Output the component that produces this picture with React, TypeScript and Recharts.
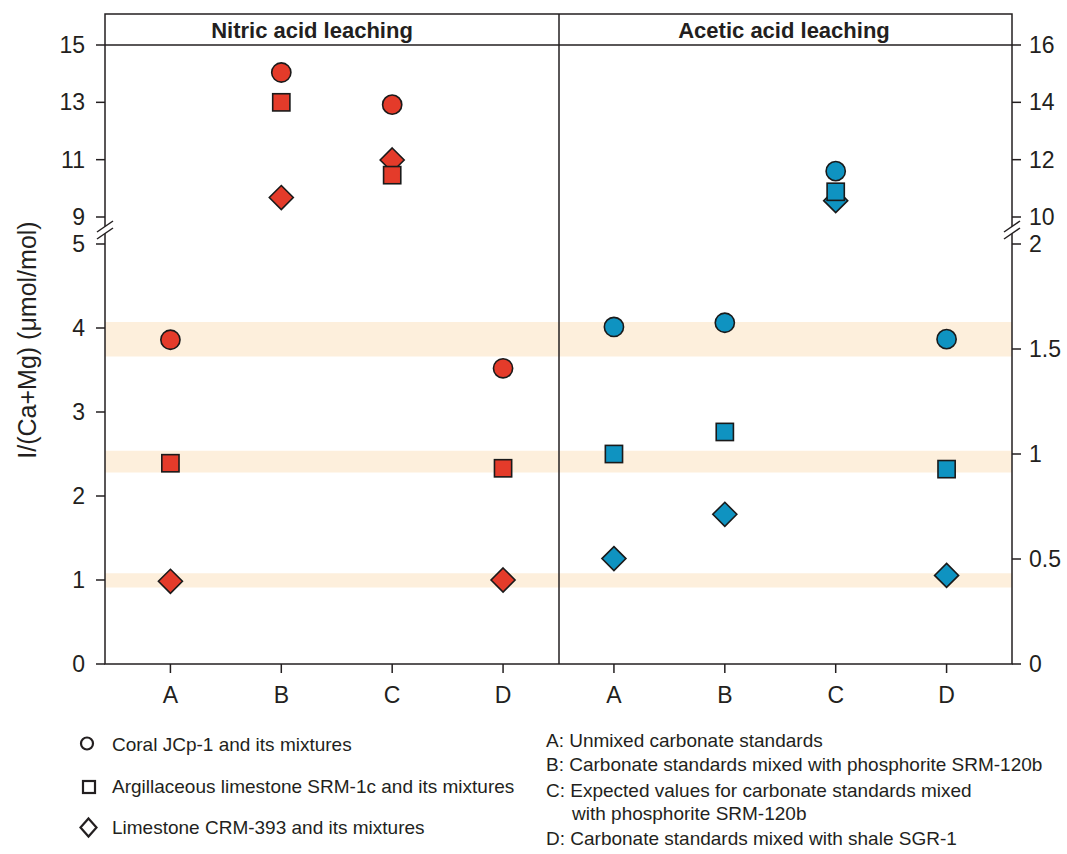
import React from 'react';
import { ScatterChart, Scatter, XAxis, YAxis, ReferenceArea } from 'recharts';

// ---------- data ----------
const categories = ['A', 'B', 'C', 'D'];
const nitricCoral = [3.86, 14.04, 12.92, 3.52];
const nitricArgillaceous = [2.39, 13.0, 10.46, 2.33];
const nitricLimestone = [0.985, 9.68, 10.99, 1.0];
const aceticCoral = [1.605, 1.625, 11.6, 1.547];
const aceticArgillaceous = [1.0, 1.105, 10.88, 0.928];
const aceticLimestone = [0.502, 0.713, 10.57, 0.422];

const bandLow = [3.66, 2.28, 0.91];
const bandHigh = [4.07, 2.54, 1.08];

const leftUpperTicks = [9, 11, 13, 15];
const leftLowerTicks = [0, 1, 2, 3, 4, 5];
const rightUpperTicks = [10, 12, 14, 16];
const rightLowerTicks = [0, 0.5, 1, 1.5, 2];
const xTicks = [1, 2, 3, 4, 5, 6, 7, 8];

const leftBreak = 5;
const rightBreak = 2;

const panelTitles = ['Nitric acid leaching', 'Acetic acid leaching'];
const yLabel = 'I/(Ca+Mg) (\u03bcmol/mol)';
const materialLegend = [
  'Coral JCp-1 and its mixtures',
  'Argillaceous limestone SRM-1c and its mixtures',
  'Limestone CRM-393 and its mixtures',
];
const categoryLegend = [
  'A: Unmixed carbonate standards',
  'B: Carbonate standards mixed with phosphorite SRM-120b',
  'C: Expected values for carbonate standards mixed',
  'with phosphorite SRM-120b',
  'D: Carbonate standards mixed with shale SGR-1',
];

// ---------- styles ----------
const FONT = '"Liberation Sans", Arial, Helvetica, sans-serif';
const INK = '#231f20';
const RED = '#e43b2a';
const BLUE = '#0f93c1';
const BAND = '#fdefdc';
const X_DOMAIN: [number, number] = [0.41, 8.59];

const tickStyle = { fontSize: 23, fill: INK, fontFamily: FONT };
const tickLineStyle = { stroke: INK, strokeWidth: 1.5 };

const toPoints = (vals: number[], offset: number, lower: boolean, brk: number) =>
  vals
    .map((v, i) => ({ x: i + 1 + offset, y: v }))
    .filter((p) => (lower ? p.y <= brk : p.y > brk));

const circleShape = (fill: string) => (p: any) =>
  <circle cx={p.cx} cy={p.cy} r={9.6} fill={fill} stroke="#1a1a1a" strokeWidth={1.6} />;
const squareShape = (fill: string) => (p: any) =>
  <rect x={p.cx - 8.6} y={p.cy - 8.6} width={17.2} height={17.2} fill={fill} stroke="#1a1a1a" strokeWidth={1.6} />;
const diamondShape = (fill: string) => (p: any) =>
  <path d={`M${p.cx},${p.cy - 12}L${p.cx + 12},${p.cy}L${p.cx},${p.cy + 12}L${p.cx - 12},${p.cy}Z`} fill={fill} stroke="#1a1a1a" strokeWidth={1.6} />;

function series(lower: boolean) {
  const items = [
    { id: 'nl', vals: nitricLimestone, off: 0, axis: 'L', brk: leftBreak, shape: diamondShape(RED) },
    { id: 'al', vals: aceticLimestone, off: 4, axis: 'R', brk: rightBreak, shape: diamondShape(BLUE) },
    { id: 'na', vals: nitricArgillaceous, off: 0, axis: 'L', brk: leftBreak, shape: squareShape(RED) },
    { id: 'aa', vals: aceticArgillaceous, off: 4, axis: 'R', brk: rightBreak, shape: squareShape(BLUE) },
    { id: 'nc', vals: nitricCoral, off: 0, axis: 'L', brk: leftBreak, shape: circleShape(RED) },
    { id: 'ac', vals: aceticCoral, off: 4, axis: 'R', brk: rightBreak, shape: circleShape(BLUE) },
  ];
  return items.map((s) => (
    <Scatter
      key={s.id + (lower ? 'lo' : 'up')}
      data={toPoints(s.vals, s.off, lower, s.brk)}
      yAxisId={s.axis}
      shape={s.shape}
      isAnimationActive={false}
    />
  ));
}

export default function App() {
  const L = 105;
  const R = 1012;
  const TOP = 14;
  const HEAD = 45;
  const BOTTOM = 664;
  const MID = 559;
  return (
    <div style={{ position: 'absolute', left: 0, top: 0, width: 1067, height: 854, background: '#fff', fontFamily: FONT }}>
      {/* lower segment */}
      <div style={{ position: 'absolute', left: 0, top: 0 }}>
        <ScatterChart width={1067} height={720} margin={{ top: 244, right: 0, bottom: 0, left: 0 }}>
          <XAxis
            type="number"
            dataKey="x"
            domain={X_DOMAIN}
            ticks={xTicks}
            interval={0}
            tickFormatter={(v: number) => categories[(Math.round(v) - 1) % 4]}
            height={56}
            axisLine={false}
            tickSize={9}
            tickMargin={14}
            tick={tickStyle}
            tickLine={tickLineStyle}
            allowDataOverflow
          />
          <YAxis yAxisId="L" type="number" dataKey="y" domain={[0, 5]} ticks={leftLowerTicks} width={105}
            axisLine={false} tickSize={9} tickMargin={11} tick={tickStyle} tickLine={tickLineStyle} allowDataOverflow interval={0} />
          <YAxis yAxisId="R" orientation="right" type="number" dataKey="y" domain={[0, 2]} ticks={rightLowerTicks} width={55}
            axisLine={false} tickSize={9} tickMargin={8} tick={tickStyle} tickLine={tickLineStyle} allowDataOverflow interval={0} />
          {bandLow.map((lo, i) => (
            <ReferenceArea key={'band' + i} yAxisId="L" x1={X_DOMAIN[0]} x2={X_DOMAIN[1]} y1={lo} y2={bandHigh[i]}
              fill={BAND} fillOpacity={1} stroke="none" ifOverflow="hidden" />
          ))}
          {series(true)}
        </ScatterChart>
      </div>
      {/* upper segment */}
      <div style={{ position: 'absolute', left: 0, top: 0 }}>
        <ScatterChart width={1067} height={240} margin={{ top: 45, right: 0, bottom: 23, left: 0 }}>
          <XAxis type="number" dataKey="x" domain={X_DOMAIN} hide allowDataOverflow />
          <YAxis yAxisId="L" type="number" dataKey="y" domain={[9, 15]} ticks={leftUpperTicks} width={105}
            axisLine={false} tickSize={9} tickMargin={11} tick={tickStyle} tickLine={tickLineStyle} allowDataOverflow interval={0} />
          <YAxis yAxisId="R" orientation="right" type="number" dataKey="y" domain={[10, 16]} ticks={rightUpperTicks} width={55}
            axisLine={false} tickSize={9} tickMargin={8} tick={tickStyle} tickLine={tickLineStyle} allowDataOverflow interval={0} />
          {series(false)}
        </ScatterChart>
      </div>
      {/* frame, titles, axis label, legends */}
      <svg width={1067} height={854} style={{ position: 'absolute', left: 0, top: 0, pointerEvents: 'none' }}>
        <g stroke={INK} strokeWidth={1.5} fill="none">
          <rect x={L} y={TOP} width={R - L} height={BOTTOM - TOP} />
          <line x1={L} y1={HEAD} x2={R} y2={HEAD} />
          <line x1={MID} y1={TOP} x2={MID} y2={BOTTOM} />
        </g>
        {/* axis break marks */}
        {[L, R].map((ax, i) => (
          <g key={'brk' + i}>
            <polygon points={`${ax - 8},${232} ${ax + 8},${221} ${ax + 8},${228} ${ax - 8},${239}`} fill="#fff" />
            <line x1={ax - 8} y1={232} x2={ax + 8} y2={221} stroke={INK} strokeWidth={1.5} />
            <line x1={ax - 8} y1={239} x2={ax + 8} y2={228} stroke={INK} strokeWidth={1.5} />
          </g>
        ))}
        <text x={312} y={38} textAnchor="middle" fontSize={22} fontWeight="bold" fill={INK} fontFamily={FONT}>{panelTitles[0]}</text>
        <text x={784} y={38} textAnchor="middle" fontSize={22} fontWeight="bold" fill={INK} fontFamily={FONT}>{panelTitles[1]}</text>
        <text transform="translate(36,340) rotate(-90)" textAnchor="middle" fontSize={25} fill={INK} fontFamily={FONT}>{yLabel}</text>
        {/* material legend */}
        <circle cx={87} cy={743.5} r={6} fill="none" stroke={INK} strokeWidth={2.2} />
        <rect x={83} y={781} width={12} height={12} fill="none" stroke={INK} strokeWidth={2.2} />
        <path d="M88.5,818.5 L96.5,827.5 L88.5,836.5 L80.5,827.5 Z" fill="none" stroke={INK} strokeWidth={2.2} />
        {materialLegend.map((t, i) => (
          <text key={'ml' + i} x={112} y={[751, 793, 834][i]} fontSize={19} fill={INK} fontFamily={FONT}>{t}</text>
        ))}
        {categoryLegend.map((t, i) => (
          <text key={'cl' + i} x={i === 3 ? 572 : 546} y={[747, 771, 797, 820, 845][i]} fontSize={19} fill={INK} fontFamily={FONT}>{t}</text>
        ))}
      </svg>
    </div>
  );
}
